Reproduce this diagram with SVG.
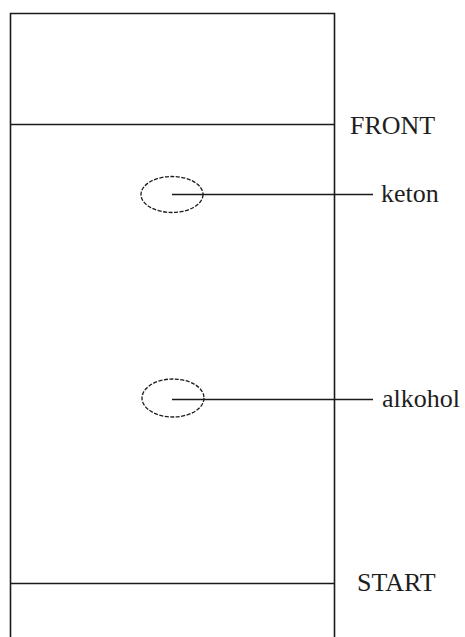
<svg xmlns="http://www.w3.org/2000/svg" width="465" height="637" viewBox="0 0 465 637">
<style>
.ln{stroke:#1a1a1a;stroke-width:1.6;fill:none}
.spot{stroke:#1a1a1a;stroke-width:1.3;fill:none;stroke-dasharray:4 1.5}
.lbl{font-family:"Liberation Serif","Times New Roman",serif;font-size:26px;fill:#1e1e1e}
</style>
<rect width="465" height="637" fill="#ffffff"/>
<g id="plate">
<path class="ln" d="M10.5,640 V13.5 H334.5 V640"/>
</g>
<g id="front">
<line class="ln" x1="10.5" y1="124.5" x2="334.5" y2="124.5"/>
<text class="lbl" x="350" y="134">FRONT</text>
</g>
<g id="start">
<line class="ln" x1="10.5" y1="583.5" x2="334.5" y2="583.5"/>
<text class="lbl" x="357" y="591">START</text>
</g>
<g id="keton">
<ellipse class="spot" cx="172" cy="194.5" rx="31" ry="18"/>
<text class="lbl" x="381" y="202">keton</text>
</g>
<g id="alkohol">
<ellipse class="spot" cx="173" cy="398" rx="31" ry="19"/>
<text class="lbl" x="382" y="407">alkohol</text>
</g>
<g id="connectors">
<line class="ln" x1="172" y1="194.5" x2="373" y2="194.5"/>
<line class="ln" x1="172" y1="399.5" x2="373" y2="399.5"/>
</g>
</svg>
